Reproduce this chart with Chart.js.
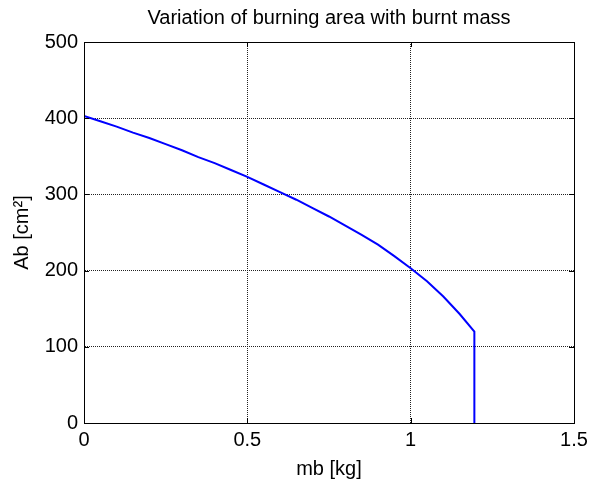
<!DOCTYPE html>
<html>
<head>
<meta charset="utf-8">
<script src="https://cdn.jsdelivr.net/npm/chart.js@4/dist/chart.umd.min.js"></script>
<style>
  html, body { margin: 0; padding: 0; background: #fff; }
  #wrap { width: 598px; height: 481px; }
</style>
</head>
<body>
<div id="wrap"><canvas id="chart" width="598" height="481"></canvas></div>
<script>
const massKg = [0, 0.05, 0.1, 0.15, 0.2, 0.25, 0.3, 0.35, 0.4, 0.45, 0.5, 0.55, 0.6, 0.65, 0.7, 0.75, 0.8, 0.85, 0.9, 0.95, 1.0, 1.05, 1.1, 1.15, 1.195, 1.195];
const areaCm2 = [403, 396, 389, 381, 374, 366, 358, 349, 341, 332, 323, 313, 303, 293, 282, 271, 259, 247, 234, 219, 203, 186, 166, 143, 120, 0];

const xTicks = [0, 0.5, 1, 1.5];
const yTicks = [0, 100, 200, 300, 400, 500];

const FONT = 'Liberation Sans, Arial, sans-serif';

const points = massKg.map((m, i) => ({ x: m, y: areaCm2[i] }));

// box round the axes plus small inward ticks on every side
const boxPlugin = {
  id: 'box',
  afterDraw(chart) {
    const { ctx, chartArea: a, scales } = chart;
    ctx.save();
    ctx.strokeStyle = '#000';
    ctx.lineWidth = 1;
    ctx.setLineDash([]);
    ctx.beginPath();
    xTicks.forEach(v => {
      const px = Math.round(scales.x.getPixelForValue(v)) + 0.5;
      ctx.moveTo(px, a.bottom); ctx.lineTo(px, a.bottom - 5);
      ctx.moveTo(px, a.top); ctx.lineTo(px, a.top + 5);
    });
    yTicks.forEach(v => {
      const py = Math.round(scales.y.getPixelForValue(v)) + 0.5;
      ctx.moveTo(a.left, py); ctx.lineTo(a.left + 5, py);
      ctx.moveTo(a.right, py); ctx.lineTo(a.right - 5, py);
    });
    ctx.stroke();
    ctx.strokeRect(Math.round(a.left) + 0.5, Math.round(a.top) + 0.5,
                   Math.round(a.right - a.left), Math.round(a.bottom - a.top));
    ctx.restore();
  }
};

new Chart(document.getElementById('chart'), {
  type: 'scatter',
  data: {
    datasets: [{
      data: points,
      showLine: true,
      borderColor: '#0000ff',
      backgroundColor: '#0000ff',
      borderWidth: 2,
      pointRadius: 0,
      tension: 0
    }]
  },
  options: {
    responsive: false,
    animation: false,
    layout: { padding: { left: 0, right: 24, top: 0, bottom: 0 } },
    plugins: {
      legend: { display: false },
      tooltip: { enabled: false },
      title: {
        display: true,
        fullSize: false,
        text: 'Variation of burning area with burnt mass',
        color: '#000',
        font: { family: FONT, size: 20, weight: 'normal', lineHeight: 1.2 },
        padding: { top: 6, bottom: 12 }
      }
    },
    scales: {
      x: {
        type: 'linear',
        min: 0,
        max: 1.5,
        afterFit(scale) { scale.height = 58; },
        afterBuildTicks(scale) { scale.ticks = xTicks.map(v => ({ value: v })); },
        ticks: {
          color: '#000',
          padding: 5,
          font: { family: FONT, size: 20 },
          callback: v => String(v)
        },
        grid: { color: '#222', drawTicks: false, lineWidth: 1 },
        border: { display: true, color: '#000', width: 1, dash: [1, 1] },
        title: {
          display: true,
          text: 'mb [kg]',
          color: '#000',
          font: { family: FONT, size: 20, lineHeight: 1.2 },
          padding: { top: 0, bottom: 0 }
        }
      },
      y: {
        type: 'linear',
        min: 0,
        max: 500,
        afterFit(scale) { scale.width = 84; },
        afterBuildTicks(scale) { scale.ticks = yTicks.map(v => ({ value: v })); },
        ticks: {
          color: '#000',
          padding: 6,
          font: { family: FONT, size: 20 },
          callback: v => String(v)
        },
        grid: { color: '#222', drawTicks: false, lineWidth: 1 },
        border: { display: true, color: '#000', width: 1, dash: [1, 1] },
        title: {
          display: true,
          text: 'Ab [cm²]',
          color: '#000',
          font: { family: FONT, size: 20, lineHeight: 1.2 },
          padding: { top: 10, bottom: 0 }
        }
      }
    }
  },
  plugins: [boxPlugin]
});
</script>
</body>
</html>
